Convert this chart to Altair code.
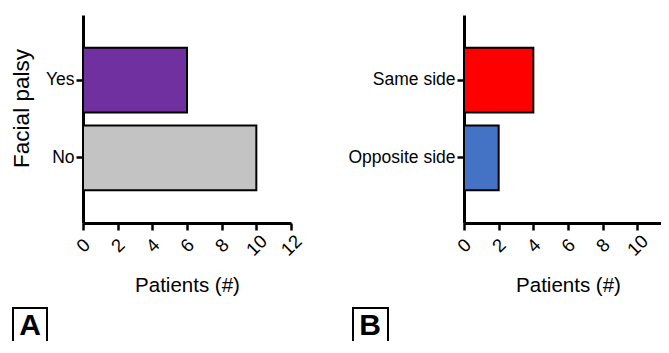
import altair as alt
import pandas as pd

palsy_cats = ["Yes", "No"]
palsy_vals = [6, 10]
palsy_colors = ["#7030A0", "#C3C3C3"]

side_cats = ["Same side", "Opposite side"]
side_vals = [4, 2]
side_colors = ["#FF0000", "#4472C4"]

x_ticks = [0, 2, 4, 6, 8, 10, 12]

df_a = pd.DataFrame({"cat": palsy_cats, "val": palsy_vals})
df_b = pd.DataFrame({"cat": side_cats, "val": side_vals})

PLOT_W = 578
PANEL_W = 208
B_LEFT = 381

yscale = alt.Scale(paddingInner=0.167, paddingOuter=0.42)


def xaxis():
    return alt.Axis(values=x_ticks, orient="bottom", labelAngle=315, labelAlign="center",
                    labelBaseline="middle", labelPadding=15, labelFontSize=18.5,
                    title="Patients (#)", titlePadding=17, titleFontSize=20.5)


bars_a = alt.Chart(df_a).mark_bar(stroke="black", strokeWidth=2).encode(
    x=alt.X("val:Q", scale=alt.Scale(domain=[0, 12], nice=False, range=[0, PANEL_W]), axis=xaxis()),
    y=alt.Y("cat:N", sort=palsy_cats, scale=yscale,
            axis=alt.Axis(orient="left", title="Facial palsy", titlePadding=12, labelPadding=2,
                          minExtent=38, maxExtent=38, titleFontSize=22.5, titleY=93)),
    color=alt.Color("cat:N", scale=alt.Scale(domain=palsy_cats, range=palsy_colors), legend=None),
)

bars_b = alt.Chart(df_b).mark_bar(stroke="black", strokeWidth=2).encode(
    x=alt.X("val:Q", scale=alt.Scale(domain=[0, 12], nice=False, range=[B_LEFT, B_LEFT + PANEL_W]),
            axis=xaxis()),
    y=alt.Y("cat:N", sort=side_cats, scale=yscale, title=None,
            axis=alt.Axis(orient="left", labelPadding=2, offset=-B_LEFT)),
    color=alt.Color("cat:N", scale=alt.Scale(domain=side_cats, range=side_colors), legend=None),
)


def letter_box(letter, box_x, letter_x):
    lab = pd.DataFrame({"label": [letter]})
    box = alt.Chart(lab).mark_rect(fill="white", fillOpacity=0, stroke="black", strokeWidth=2).encode(
        x=alt.value(box_x[0]), x2=alt.value(box_x[1]),
        y=alt.value(293), y2=alt.value(345),
    )
    txt = alt.Chart(lab).mark_text(fontSize=30, fontWeight="bold", color="black",
                                   align="center", baseline="alphabetic").encode(
        text="label:N", x=alt.value(letter_x), y=alt.value(320),
    )
    return box, txt


box_a, txt_a = letter_box("A", (-70, -36), -53)
box_b, txt_b = letter_box("B", (B_LEFT - 111, B_LEFT - 76), B_LEFT - 94)

chart = alt.layer(bars_a, bars_b, box_a, txt_a, box_b, txt_b).resolve_scale(
    x="independent", y="independent", color="independent"
).resolve_axis(x="independent", y="independent").properties(
    width=PLOT_W, height=208,
    padding={"left": 75, "top": 7, "right": 0, "bottom": 118},
    autosize=alt.AutoSizeParams(type="none"),
    background="white",
).configure(font="Liberation Sans").configure_axis(
    domainColor="black", domainWidth=3, tickColor="black", tickWidth=2.5, tickSize=7,
    labelColor="black", titleColor="black", grid=False, labelFontSize=17.5,
    titleFontWeight="normal", labelFont="Liberation Sans",
    titleFont="Liberation Sans",
).configure_view(stroke=None)

chart.save("out.html", embed_options={"renderer": "svg", "actions": False})
